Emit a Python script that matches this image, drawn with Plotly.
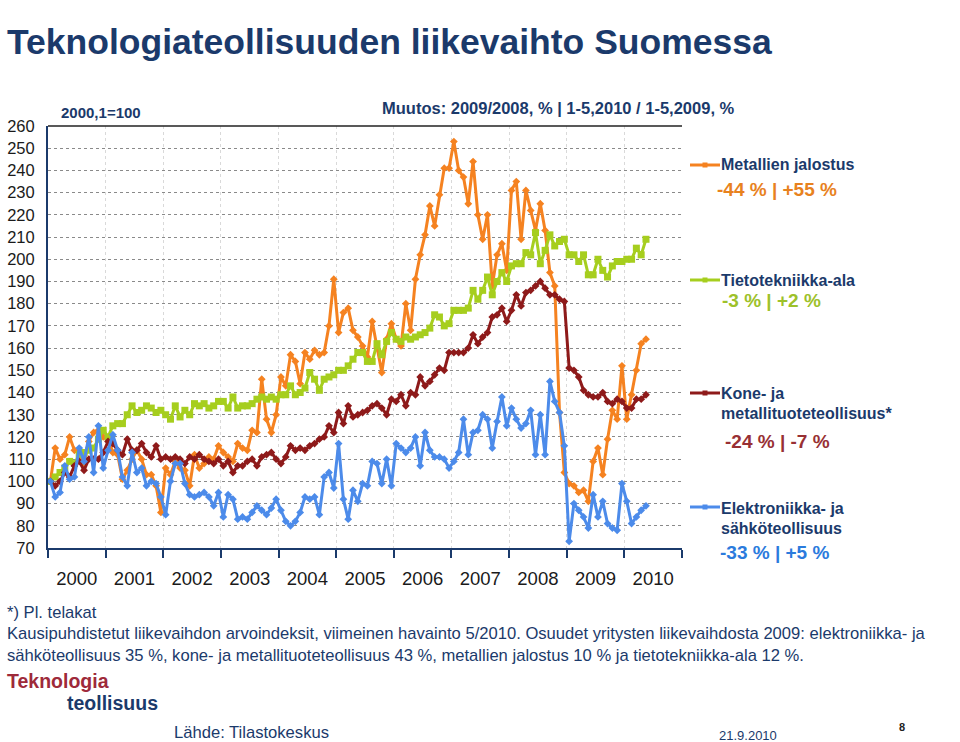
import plotly.graph_objects as go

# ---------------- data ----------------
years = list(range(2000, 2011))
months = [f"{y}-{m:02d}" for y in years for m in range(1, 13)][:125]  # 2000-01 .. 2010-05

metallien = [100, 115, 110, 112, 120, 114, 113, 108, 118, 122, 123, 120,
             119, 113, 112, 101, 105, 110, 114, 110, 103, 103, 98, 86,
             106, 103, 109, 106, 105, 98, 112, 106, 108, 111, 110, 116,
             113, 111, 109, 117, 115, 114, 123, 122, 146, 128, 122, 130,
             147, 143, 157, 154, 144, 158, 155, 159, 157, 158, 170, 191,
             167, 176, 178, 168, 165, 161, 156, 172, 160, 149, 164, 171,
             164, 161, 180, 168, 191, 202, 211, 224, 215, 229, 241, 241,
             253, 240, 237, 225, 244, 220, 209, 220, 188, 202, 207, 195,
             231, 235, 209, 231, 222, 213, 225, 213, 194, 188, 131, 104,
             99, 98, 95, 96, 91, 109, 115, 103, 119, 132, 128, 152,
             128, 139, 150, 162, 164]

tietotekniikka = [100, 102, 104, 106, 109, 108, 112, 113, 114, 115, 119, 123,
                  120, 125, 126, 126, 130, 134, 131, 132, 134, 133, 131, 132,
                  130, 128, 134, 129, 132, 130, 135, 134, 135, 133, 134, 136,
                  136, 133, 138, 133, 134, 134, 135, 137, 138, 137, 138, 137,
                  139, 139, 143, 139, 140, 142, 149, 146, 141, 146, 147, 148,
                  150, 150, 152, 155, 158, 158, 154, 154, 162, 157, 163, 167,
                  164, 163, 165, 164, 165, 166, 167, 169, 175, 174, 170, 171,
                  177, 177, 177, 178, 186, 182, 186, 192, 184, 190, 194, 190,
                  197, 198, 198, 203, 202, 212, 198, 204, 211, 206, 208, 209,
                  202, 202, 199, 202, 193, 193, 200, 195, 192, 197, 199, 199,
                  200, 200, 205, 202, 209]

kone = [100, 98, 100, 104, 102, 107, 109, 105, 110, 110, 110, 113,
        118, 117, 114, 112, 119, 114, 114, 117, 113, 111, 116, 110,
        111, 110, 111, 110, 108, 111, 110, 112, 110, 109, 108, 110,
        107, 109, 104, 107, 107, 109, 110, 107, 111, 112, 113, 110,
        108, 111, 116, 114, 115, 114, 116, 117, 119, 120, 125, 122,
        131, 126, 134, 129, 130, 131, 132, 134, 135, 133, 130, 137,
        136, 139, 134, 140, 139, 147, 143, 145, 148, 151, 150, 158,
        158, 158, 158, 160, 166, 162, 165, 167, 174, 175, 178, 172,
        177, 184, 179, 185, 186, 188, 190, 187, 184, 184, 182, 181,
        151, 150, 147, 141, 139, 138, 138, 140, 136, 135, 137, 136,
        133, 133, 137, 137, 139]

elektroniikka = [100, 93, 95, 107, 101, 102, 115, 109, 120, 104, 125, 106,
                 114, 121, 114, 102, 98, 113, 104, 106, 98, 100, 99, 93,
                 85, 100, 108, 108, 99, 94, 93, 94, 95, 93, 89, 95,
                 84, 94, 92, 83, 84, 83, 86, 89, 87, 85, 88, 92,
                 87, 82, 80, 82, 86, 93, 92, 93, 85, 102, 104, 97,
                 117, 92, 83, 96, 91, 99, 98, 109, 108, 99, 110, 98,
                 117, 115, 113, 115, 120, 107, 122, 114, 111, 111, 110, 106,
                 109, 113, 128, 112, 122, 123, 130, 128, 115, 127, 138, 125,
                 133, 128, 124, 126, 132, 112, 130, 112, 145, 136, 131, 116,
                 73, 90, 87, 84, 79, 94, 84, 91, 81, 79, 78, 99,
                 91, 81, 84, 87, 89]

y_ticks = list(range(70, 261, 10))
year_labels = [str(y) for y in years]

# ---------------- styling ----------------
FONT = "Arial, Liberation Sans, sans-serif"
NAVY = "#1B3A6B"
C_OR = "#F58220"
C_GR = "#A6CE1E"
C_DR = "#8E1A1A"
C_BL = "#4C8BEA"

x = list(range(len(months)))

fig = go.Figure()
series = [
    (metallien, C_OR, "diamond", 6, "Metallien jalostus"),
    (tietotekniikka, C_GR, "square", 7, "Tietotekniikka-ala"),
    (kone, C_DR, "diamond", 6, "Kone- ja metallituoteteollisuus"),
    (elektroniikka, C_BL, "diamond", 6, "Elektroniikka- ja sähköteollisuus"),
]
for vals, col, sym, ms, name in series:
    fig.add_trace(go.Scatter(x=x, y=vals, mode="lines+markers", name=name,
                             line=dict(color=col, width=3),
                             marker=dict(color=col, symbol=sym, size=ms),
                             customdata=months, showlegend=False))

L, R, T, B = 48, 682, 126, 548
W, H = 960, 742


def px(xp):
    return (xp - L) / (R - L)


def py(yp):
    return (B - yp) / (B - T)


ann = []


def text(t, xp, yp, size, color, bold=False, xanchor="left", family=FONT):
    if bold:
        t = f"<b>{t}</b>"
    ann.append(dict(text=t, x=px(xp), y=py(yp), xref="paper", yref="paper",
                    xanchor=xanchor, yanchor="middle", showarrow=False,
                    borderpad=0,
                    font=dict(size=size, color=color, family=family)))


text("Teknologiateollisuuden liikevaihto Suomessa", 6, 42, 35.5, NAVY, True)
text("2000,1=100", 60, 112, 15, NAVY, True)
text("Muutos: 2009/2008, % | 1-5,2010 / 1-5,2009, %", 381, 108, 16.5, NAVY, True)

# legend-like labels
text("Metallien jalostus", 720, 164, 16, NAVY, True)
text("-44 % | +55 %", 716, 189, 19, "#E8821E", True)
text("Tietotekniikka-ala", 720, 280, 16, NAVY, True)
text("-3 % | +2 %", 721, 300, 19, "#9DC12A", True)
text("Kone- ja", 720, 393, 16, NAVY, True)
text("metallituoteteollisuus*", 720, 413, 16, NAVY, True)
text("-24 % | -7 %", 724, 441, 19, "#983034", True)
text("Elektroniikka- ja", 720, 508, 16, NAVY, True)
text("sähköteollisuus", 720, 528, 16, NAVY, True)
text("-33 % | +5 %", 719, 552, 19, "#2B7BDD", True)

# footnotes
text("*) Pl. telakat", 6, 612, 16.6, NAVY)
text("Kausipuhdistetut liikevaihdon arvoindeksit, viimeinen havainto 5/2010. "
     "Osuudet yritysten liikevaihdosta 2009: elektroniikka- ja", 6, 633, 16.6, NAVY)
text("sähköteollisuus 35 %, kone- ja metallituoteteollisuus 43 %, "
     "metallien jalostus 10 % ja tietotekniikka-ala 12 %.", 6, 655, 16.6, NAVY)
text("Teknologia", 6, 681, 19.5, "#9E2A3A", True)
text("teollisuus", 66, 703, 19.5, NAVY, True)
text("Lähde: Tilastokeskus", 173, 732, 16.6, NAVY)
text("21.9.2010", 718, 735, 13, NAVY)
text("8", 898, 727, 11, "#222222", True)

shapes = []
# top border of plot
shapes.append(dict(type="line", xref="paper", yref="paper", x0=0, x1=1, y0=1, y1=1,
                   line=dict(color="#222222", width=1.5)))
# legend line samples
for col, yp in [(C_OR, 165), (C_GR, 280), (C_DR, 393), (C_BL, 507)]:
    shapes.append(dict(type="line", xref="paper", yref="paper",
                       x0=px(690), x1=px(720), y0=py(yp), y1=py(yp),
                       line=dict(color=col, width=3)))
    shapes.append(dict(type="rect", xref="paper", yref="paper",
                       x0=px(702.5), x1=px(707.5), y0=py(yp + 2.5), y1=py(yp - 2.5),
                       line=dict(width=0), fillcolor=col))

fig.update_layout(
    width=W, height=H,
    margin=dict(l=L, r=W - R, t=T, b=H - B, pad=0, autoexpand=False),
    paper_bgcolor="white", plot_bgcolor="white",
    font=dict(family=FONT, color="#1a1a1a"),
    annotations=ann, shapes=shapes,
    xaxis=dict(range=[-0.5, 131.5], tickmode="array", automargin=False,
               tickvals=[5.5 + 12 * k for k in range(len(year_labels))],
               ticktext=year_labels, ticks="", showgrid=False,
               tickfont=dict(size=18.5, color="#1a1a1a"),
               ticklabelstandoff=13,
               showline=True, linecolor=NAVY, linewidth=2, zeroline=False,
               minor=dict(tick0=-0.5, dtick=12, ticks="outside", ticklen=8,
                          tickcolor=NAVY, tickwidth=2, showgrid=True,
                          gridcolor="#d9d9d9", griddash="dot", gridwidth=1)),
    yaxis=dict(range=[70, 260], tickmode="array", tickvals=y_ticks, automargin=False,
               ticktext=[str(v) for v in y_ticks],
               showgrid=True, gridcolor="#8a8a8a", griddash="dot", gridwidth=1,
               tickfont=dict(size=16.5, color="#1a1a1a"), ticks="",
               ticklabelstandoff=8,
               showline=True, linecolor=NAVY, linewidth=2, zeroline=False),
)

fig.write_html("out.html",
               config={"displayModeBar": False},
               post_script="document.body.style.margin='0';"
                           "document.body.style.overflow='hidden';")
